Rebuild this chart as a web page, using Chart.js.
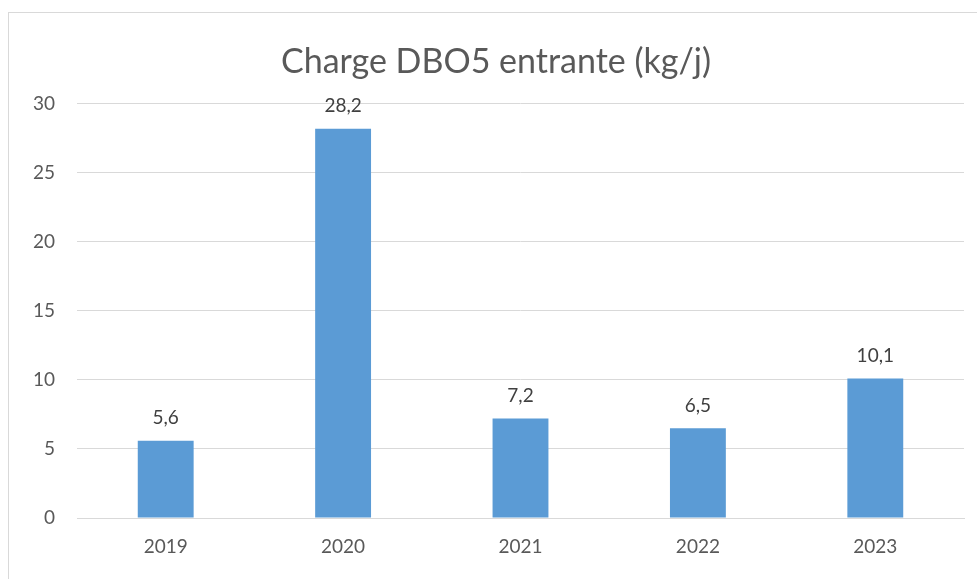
<!DOCTYPE html>
<html>
<head>
<meta charset="utf-8">
<script src="https://cdn.jsdelivr.net/npm/chart.js@4"></script>
<style>
  html, body { margin: 0; padding: 0; background: #fff; }
  #wrap { position: relative; width: 977px; height: 579px; }
  #frame { position: absolute; left: 8px; top: 12px; width: 1000px; height: 600px;
           border-top: 1px solid #d9d9d9; border-left: 1px solid #d9d9d9; box-sizing: border-box; }
</style>
</head>
<body>
<div id="wrap">
  <div id="frame"></div>
  <canvas id="myChart" width="977" height="579"></canvas>
</div>
<script>
const years = ['2019', '2020', '2021', '2022', '2023'];
const chargeDBO5 = [5.6, 28.2, 7.2, 6.5, 10.1];
const yTicks = [0, 5, 10, 15, 20, 25, 30];

const fmt = v => v.toFixed(1).replace('.', ',');

// value labels above bars
const valueLabels = {
  id: 'valueLabels',
  afterDatasetsDraw(chart) {
    const ctx = chart.ctx;
    ctx.save();
    ctx.font = '19px Lato';
    ctx.fillStyle = '#404040';
    ctx.textAlign = 'center';
    ctx.textBaseline = 'bottom';
    chart.getDatasetMeta(0).data.forEach((bar, i) => {
      ctx.fillText(fmt(chargeDBO5[i]), bar.x, bar.y - 13);
    });
    ctx.restore();
  }
};

const data = {
  labels: years,
  datasets: [{
    label: 'Charge DBO5 entrante (kg/j)',
    data: chargeDBO5,
    backgroundColor: '#5B9BD5',
    categoryPercentage: 1,
    barPercentage: 0.315
  }]
};

const config = {
  type: 'bar',
  data,
  options: {
    responsive: false,
    animation: false,
    layout: { padding: { left: 28, right: 13, top: 0, bottom: 0 } },
    plugins: {
      legend: { display: false },
      tooltip: { enabled: false },
      title: {
        display: true,
        text: 'Charge DBO5 entrante (kg/j)',
        color: '#595959',
        font: { family: 'Lato', size: 34, weight: 'normal' },
        padding: { top: 42, bottom: 21 }
      }
    },
    scales: {
      x: {
        grid: { display: false },
        border: { color: '#d9d9d9' },
        ticks: { color: '#595959', font: { family: 'Lato', size: 19 }, padding: 9 },
        afterFit(s) { s.height = 61; }
      },
      y: {
        min: 0,
        max: 30,
        afterBuildTicks(s) { s.ticks = yTicks.map(v => ({ value: v })); },
        grid: { color: '#d9d9d9', drawTicks: false },
        border: { display: false },
        ticks: { color: '#595959', font: { family: 'Lato', size: 19 }, padding: 22 },
        afterFit(s) { s.width = 49; }
      }
    }
  },
  plugins: [valueLabels]
};

const myChart = new Chart(document.getElementById('myChart'), config);
</script>
</body>
</html>
